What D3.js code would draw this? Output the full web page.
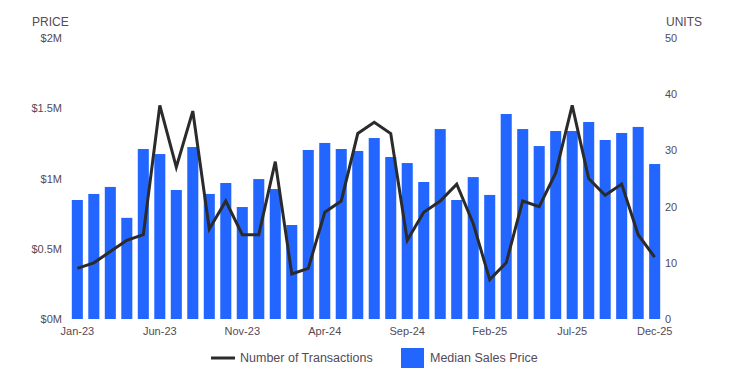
<!DOCTYPE html>
<html>
<head>
<meta charset="utf-8">
<script src="https://cdn.jsdelivr.net/npm/d3@7"></script>
<style>
  body { margin: 0; background: #fff; }
  text { font-family: "Liberation Sans", Arial, sans-serif; }
</style>
</head>
<body>
<div id="chart"></div>
<script>
var svgWidth = 729;
var svgHeight = 387;

// x positions: plot spans the 36 monthly bands
var margin = { top: 38, right: 66, bottom: 68, left: 69 };
var width = svgWidth - margin.left - margin.right;
var height = svgHeight - margin.top - margin.bottom;

// months Jan-23 .. Dec-25
var months = ["Jan-23","Feb-23","Mar-23","Apr-23","May-23","Jun-23","Jul-23","Aug-23","Sep-23","Oct-23","Nov-23","Dec-23",
  "Jan-24","Feb-24","Mar-24","Apr-24","May-24","Jun-24","Jul-24","Aug-24","Sep-24","Oct-24","Nov-24","Dec-24",
  "Jan-25","Feb-25","Mar-25","Apr-25","May-25","Jun-25","Jul-25","Aug-25","Sep-25","Oct-25","Nov-25","Dec-25"];

// median sales price, $M
var medianPrice = [0.847, 0.89, 0.94, 0.72, 1.21, 1.174, 0.918, 1.224, 0.89, 0.968, 0.797, 0.996,
  0.925, 0.669, 1.203, 1.253, 1.21, 1.196, 1.288, 1.153, 1.11, 0.975, 1.352, 0.847,
  1.01, 0.883, 1.459, 1.352, 1.231, 1.338, 1.338, 1.402, 1.274, 1.324, 1.367, 1.103];

// number of transactions
var transactions = [9, 10, 12, 14, 15, 38, 27, 37, 16, 21, 15, 15,
  28, 8, 9, 19, 21, 33, 35, 33, 14, 19, 21, 24,
  17, 7, 10, 21, 20, 26, 38, 25, 22, 24, 15, 11];

var xTickLabels = ["Jan-23","Jun-23","Nov-23","Apr-24","Sep-24","Feb-25","Jul-25","Dec-25"];
var priceTicks = [0, 0.5, 1, 1.5, 2];
var unitTicks = [0, 10, 20, 30, 40, 50];

var textColor = "#554a55";
var barColor = "#2266ff";
var lineColor = "#2b2b2b";

var svg = d3.select("#chart")
  .append("svg")
  .attr("width", svgWidth)
  .attr("height", svgHeight);

var chartGroup = svg.append("g")
  .attr("transform", `translate(${margin.left}, ${margin.top})`);

var xBand = d3.scaleBand()
  .domain(months)
  .range([0, width])
  .paddingInner(0.33)
  .paddingOuter(0.17);

var yPrice = d3.scaleLinear().domain([0, 2]).range([height, 0]);
var yUnits = d3.scaleLinear().domain([0, 50]).range([height, 0]);

// bars
chartGroup.selectAll("rect.bar")
  .data(medianPrice)
  .enter()
  .append("rect")
  .attr("class", "bar")
  .attr("x", (d, i) => xBand(months[i]))
  .attr("y", d => yPrice(d))
  .attr("width", xBand.bandwidth())
  .attr("height", d => height - yPrice(d))
  .attr("fill", barColor);

// line
var line = d3.line()
  .x((d, i) => xBand(months[i]) + xBand.bandwidth() / 2)
  .y(d => yUnits(d));

chartGroup.append("path")
  .datum(transactions)
  .attr("d", line)
  .attr("fill", "none")
  .attr("stroke", lineColor)
  .attr("stroke-width", 3)
  .attr("stroke-linejoin", "miter");

// left axis
var leftAxis = d3.axisLeft(yPrice)
  .tickValues(priceTicks)
  .tickSize(0)
  .tickPadding(7)
  .tickFormat(d => "$" + d + "M");
var gl = chartGroup.append("g").call(leftAxis);
gl.select(".domain").remove();
gl.selectAll("text").attr("fill", textColor).style("font-size", "11px");

// right axis
var rightAxis = d3.axisRight(yUnits)
  .tickValues(unitTicks)
  .tickSize(0)
  .tickPadding(2);
var gr = chartGroup.append("g")
  .attr("transform", `translate(${width}, 0)`)
  .call(rightAxis);
gr.select(".domain").remove();
gr.selectAll("text").attr("fill", textColor).style("font-size", "11px");

// bottom axis
var bottomAxis = d3.axisBottom(xBand)
  .tickValues(xTickLabels)
  .tickSize(0)
  .tickPadding(8);
var gb = chartGroup.append("g")
  .attr("transform", `translate(0, ${height})`)
  .call(bottomAxis);
gb.select(".domain").remove();
gb.selectAll("text").attr("fill", textColor).style("font-size", "11px");

// axis titles
svg.append("text")
  .attr("x", 32).attr("y", 26)
  .attr("fill", textColor)
  .style("font-size", "12px")
  .text("PRICE");

svg.append("text")
  .attr("x", 666).attr("y", 26)
  .attr("fill", textColor)
  .style("font-size", "12px")
  .text("UNITS");

// legend
var legend = svg.append("g");
legend.append("line")
  .attr("x1", 211).attr("x2", 235)
  .attr("y1", 358).attr("y2", 358)
  .attr("stroke", lineColor)
  .attr("stroke-width", 3);
legend.append("text")
  .attr("x", 240).attr("y", 362)
  .attr("fill", textColor)
  .style("font-size", "12.5px")
  .text("Number of Transactions");
legend.append("rect")
  .attr("x", 401).attr("y", 348)
  .attr("width", 23).attr("height", 20)
  .attr("fill", barColor);
legend.append("text")
  .attr("x", 430).attr("y", 362)
  .attr("fill", textColor)
  .style("font-size", "12.5px")
  .text("Median Sales Price");
</script>
</body>
</html>
